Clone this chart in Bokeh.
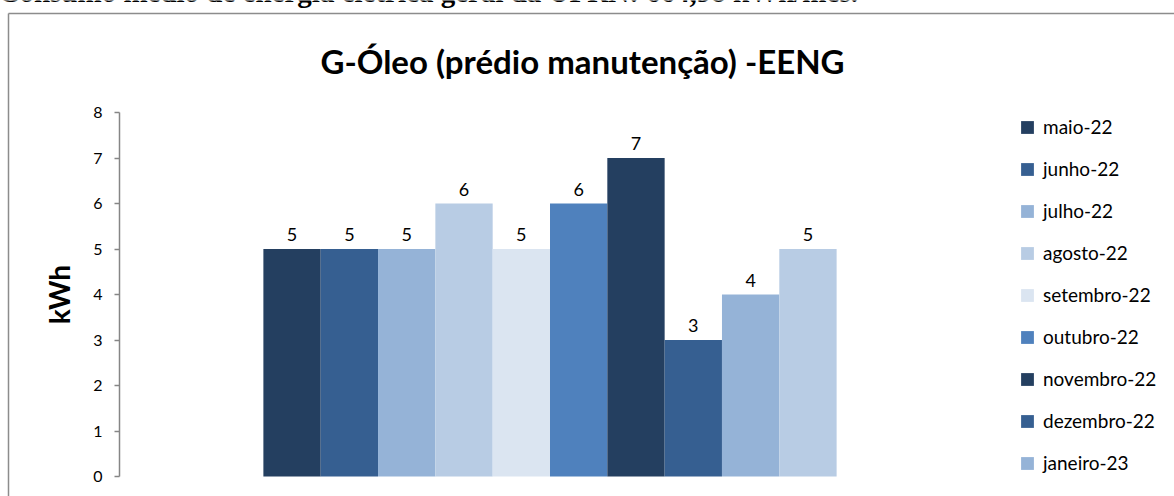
from bokeh.plotting import figure
from bokeh.models import (ColumnDataSource, Range1d, FixedTicker, LabelSet, Label,
                          Legend, LegendItem, LinearAxis)
from bokeh.core.properties import value
from bokeh.embed import file_html
from bokeh.resources import INLINE

# ---- data ----
months = ["maio-22", "junho-22", "julho-22", "agosto-22", "setembro-22",
          "outubro-22", "novembro-22", "dezembro-22", "janeiro-23", "fevereiro-23"]
values = [5, 5, 5, 6, 5, 6, 7, 3, 4, 5]
colors = ["#243F60", "#365F91", "#95B3D7", "#B8CCE4", "#DBE5F1",
          "#4F81BD", "#243F60", "#365F91", "#95B3D7", "#B8CCE4"]
y_ticks = [0, 1, 2, 3, 4, 5, 6, 7, 8]
title_text = "G-Óleo (prédio manutenção) -EENG"
y_label = "kWh"
header_text = "Consumo médio de energia elétrica geral da UFRN: 664,98 kWh/mês."
legend_count = 9   # entries visible in the reference (the last one is cropped away)

FONT = "Lato"
W, H = 1174, 496
LEFT, RIGHT, TOP, BOTTOM = 119, 980, 112, 476   # plot-area edges in px
BORDER_X, BORDER_Y = 8, 13                       # outer chart border in px

xs = list(range(len(months)))
src = ColumnDataSource(dict(x=xs, month=months, value=values, color=colors,
                            label=[str(v) for v in values]))

# plot-area extents in data units
pad = 2.51
ax0, ax1 = xs[0] - 0.5 - pad, xs[-1] + 0.5 + pad
ay0, ay1 = 0, 8
ppx = (RIGHT - LEFT) / (ax1 - ax0)
ppy = (BOTTOM - TOP) / (ay1 - ay0)

def px_to_x(px):
    return ax0 + (px - LEFT) / ppx

def py_to_y(py):
    return ay0 + (BOTTOM - py) / ppy

# the frame covers the whole canvas so that every mark stays unclipped
p = figure(width=W, height=H, output_backend="svg", toolbar_location=None,
           x_range=Range1d(px_to_x(0), px_to_x(W)), y_range=Range1d(py_to_y(H), py_to_y(0)),
           x_axis_location=None, y_axis_location=None,
           min_border_left=0, min_border_right=0, min_border_top=0, min_border_bottom=0)
p.title.visible = False
p.grid.visible = False
p.outline_line_color = None
p.background_fill_color = "white"
p.border_fill_color = "white"

# y axis at the plot-area's left edge
ya = LinearAxis(fixed_location=ax0, bounds=(ay0, ay1), ticker=FixedTicker(ticks=y_ticks))
ya.axis_line_color = "#868686"
ya.axis_line_width = 1.5
ya.major_tick_line_color = "#868686"
ya.major_tick_line_width = 1.5
ya.major_tick_out = 5
ya.major_tick_in = 0
ya.minor_tick_line_color = None
ya.major_label_text_font = FONT
ya.major_label_text_font_size = "16px"
ya.major_label_text_color = "#000000"
ya.major_label_standoff = 12
ya.axis_label = y_label
ya.axis_label_text_font = FONT
ya.axis_label_text_font_size = "28px"
ya.axis_label_text_font_style = "bold"
ya.axis_label_text_color = "#000000"
ya.axis_label_standoff = 14
p.add_layout(ya, "left")

r = p.vbar(x="x", top="value", width=1.0, source=src, fill_color="color", line_color=None)

labels = LabelSet(x="x", y="value", text="label", source=src, y_offset=8,
                  text_align="center", text_baseline="alphabetic",
                  text_font=value(FONT), text_font_size=value("18px"), text_color="#000000")
p.add_layout(labels)

# chart title
p.add_layout(Label(x=px_to_x(582), y=py_to_y(60), text=title_text, text_align="center",
                   text_baseline="alphabetic", text_font=FONT, text_font_size="33px",
                   text_font_style="bold", text_color="#000000"))

items = [LegendItem(label=months[i], renderers=[r], index=i) for i in range(legend_count)]
legend = Legend(items=items, location=(1019, 22), orientation="vertical",
                glyph_width=16, glyph_height=16, label_height=22, label_standoff=8,
                spacing=19, padding=0, margin=0, border_line_color=None,
                background_fill_alpha=0,
                label_text_font=FONT, label_text_font_size="19px", label_text_color="#000000")
p.add_layout(legend)

# outer chart border (left and top edges) drawn as bare axis lines
def bare_axis(loc, bounds):
    return LinearAxis(fixed_location=loc, bounds=bounds, ticker=FixedTicker(ticks=[]),
                      axis_line_color="#8C8C8C", axis_line_width=1.5,
                      major_tick_line_color=None, minor_tick_line_color=None,
                      major_label_text_font_size="0px")

bx, by = px_to_x(BORDER_X), py_to_y(BORDER_Y)
p.add_layout(bare_axis(bx, (py_to_y(H + 10), by)), "left")
p.add_layout(bare_axis(by, (bx, px_to_x(W + 10))), "below")

# cropped page header above the chart
p.add_layout(Label(x=px_to_x(-2), y=py_to_y(-9), text=header_text,
                   text_font="Liberation Serif", text_font_style="bold", text_font_size="29px",
                   text_color="#000000", text_baseline="alphabetic"))

open("out.html", "w").write(file_html(p, INLINE))
